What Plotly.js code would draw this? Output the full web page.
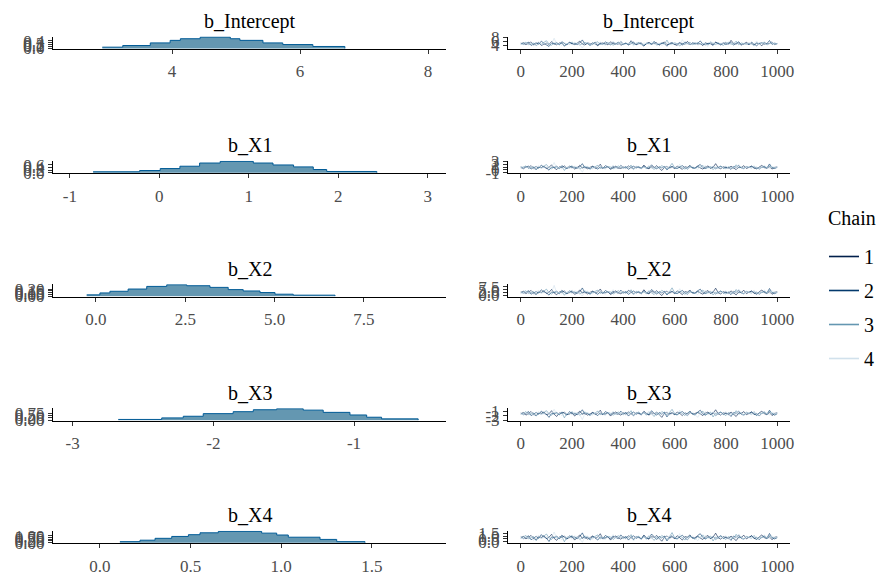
<!DOCTYPE html>
<html><head><meta charset="utf-8">
<script src="https://cdn.plot.ly/plotly-3.0.1.min.js"></script>
<style>html,body{margin:0;padding:0;background:#fff;} #chart{width:879px;height:576px;}</style>
</head><body><div id="chart"></div>
<script>
// ---------------- DATA ----------------
const PARAMS = ['b_Intercept', 'b_X1', 'b_X2', 'b_X3', 'b_X4'];
const CHAINS = ['1', '2', '3', '4'];
const ITER = [0,10,20,30,40,50,60,70,80,90,100,110,120,130,140,150,160,170,180,190,200,210,220,230,240,250,260,270,280,290,300,310,320,330,340,350,360,370,380,390,400,410,420,430,440,450,460,470,480,490,500,510,520,530,540,550,560,570,580,590,600,610,620,630,640,650,660,670,680,690,700,710,720,730,740,750,760,770,780,790,800,810,820,830,840,850,860,870,880,890,900,910,920,930,940,950,960,970,980,990,1000];

// posterior density (step outline as seen in the picture)
const DENS_X_INTERCEPT = [2.91,3.23,3.66,3.97,4.13,4.44,4.91,5.06,5.42,5.73,6.20,6.70];
const DENS_Y_INTERCEPT = [0.067,0.154,0.292,0.426,0.513,0.600,0.513,0.426,0.292,0.205,0.103,0];
const DENS_X_X1 = [-0.74,-0.22,0.01,0.23,0.45,0.68,1.05,1.27,1.50,1.72,1.87,2.43];
const DENS_Y_X1 = [0.073,0.167,0.312,0.487,0.726,0.85,0.726,0.581,0.436,0.240,0.094,0];
const DENS_X_X2 = [-0.26,0.11,0.39,0.90,1.42,1.98,2.54,3.19,3.70,4.12,4.59,5.01,5.52,6.69];
const DENS_Y_X2 = [0.037,0.093,0.141,0.206,0.282,0.33,0.302,0.254,0.189,0.150,0.104,0.056,0.028,0];
const DENS_X_X3 = [-2.676,-2.367,-2.214,-2.072,-1.859,-1.716,-1.550,-1.361,-1.219,-1.029,-0.910,-0.804,-0.544];
const DENS_Y_X3 = [0.072,0.236,0.410,0.687,0.892,1.097,1.2,1.056,0.821,0.544,0.308,0.133,0];
const DENS_X_X4 = [0.110,0.221,0.304,0.396,0.488,0.552,0.653,0.892,0.975,1.039,1.214,1.306,1.462];
const DENS_Y_X4 = [0.155,0.357,0.621,0.885,1.133,1.398,1.6,1.351,1.087,0.777,0.466,0.155,0];

// MCMC draws (thinned, every 10th iteration) per chain
const TRACE_INTERCEPT = [
 [4.7,5.2,4.3,4.9,5.6,4.1,4.8,5.3,3.9,4.6, 5.0,4.4,5.8,4.7,4.2,5.1,4.9,3.7,4.5,5.4, 4.8,4.3,5.0,6.0,4.6,4.1,5.2,4.7,4.4,5.5, 3.8,4.9,5.1,4.6,4.2,5.7,4.8,4.5,5.3,4.0, 4.7,5.0,4.4,6.2,4.9,4.3,5.1,4.6,3.6,4.8, 5.4,4.5,4.9,5.2,4.1,4.7,5.6,4.3,4.8,5.0, 4.4,3.9,5.3,4.7,4.6,5.9,4.2,4.9,5.1,4.5, 4.8,3.8,5.2,4.6,5.0,4.3,5.5,4.7,4.1,4.9, 5.3,4.4,6.4,4.8,4.6,5.1,4.0,4.7,5.4,4.5, 4.9,4.2,5.0,4.8,3.7,5.2,4.6,4.9,5.6,4.3, 4.8],
 [5.1,4.4,4.8,5.5,3.9,4.7,5.2,4.5,6.0,4.9, 4.3,3.4,5.0,4.6,5.3,4.2,5.7,4.8,4.1,5.4, 4.7,4.9,4.3,5.1,6.6,4.5,4.8,4.0,5.2,4.6, 3.9,5.0,4.4,5.6,4.9,4.2,5.3,4.7,4.4,5.8, 4.6,5.0,4.1,4.8,5.5,4.3,4.9,5.2,3.8,4.7, 5.1,4.5,5.9,4.6,4.2,5.0,4.8,3.5,4.9,5.3, 4.4,4.7,5.1,4.0,5.6,4.8,4.3,5.2,4.6,4.9, 6.1,4.5,4.2,5.0,4.7,3.9,5.4,4.8,4.6,5.1, 4.3,4.9,5.3,4.1,4.7,5.7,4.4,4.8,5.0,4.2, 5.5,4.6,3.7,4.9,5.2,4.5,4.8,6.3,4.4,5.0, 4.7],
 [4.4,4.9,5.5,4.2,4.7,5.1,3.7,4.8,4.5,5.3, 6.2,4.6,4.0,5.0,4.8,4.3,5.2,3.5,4.9,4.6, 5.6,4.4,5.0,4.1,4.7,5.4,4.9,3.8,4.6,5.1, 5.7,4.3,4.8,4.5,5.2,4.9,4.0,4.7,5.5,4.8, 4.3,5.0,4.6,5.8,4.2,4.9,5.3,4.4,3.9,5.1, 4.7,4.5,5.4,4.0,4.8,5.1,4.6,6.5,4.3,4.9, 5.2,4.7,3.6,5.0,4.5,4.8,5.5,4.2,4.9,5.3, 4.4,4.6,5.0,4.1,5.7,4.8,4.3,5.2,4.6,3.9, 4.9,5.4,4.5,4.7,6.0,4.2,5.1,4.8,4.4,5.0, 4.6,3.8,5.3,4.7,4.9,5.6,4.1,4.8,5.2,4.5, 4.9],
 [4.8,4.2,5.0,4.6,5.4,3.8,4.9,5.7,4.3,4.7, 5.1,4.5,4.9,7.4,4.4,4.8,3.9,5.2,4.6,5.0, 4.1,5.5,4.7,4.3,2.6,4.9,5.3,4.6,4.2,5.0, 4.8,5.6,4.4,4.0,5.1,4.7,6.0,4.5,4.9,5.2, 4.6,4.3,5.0,4.8,3.6,5.4,4.7,4.2,5.1,4.9, 4.5,5.8,4.4,4.8,5.0,3.9,4.6,5.3,4.7,4.1, 5.2,4.9,4.4,6.7,4.6,5.0,4.3,4.8,5.5,4.0, 4.7,5.1,4.5,3.4,4.9,5.4,4.6,4.2,5.0,4.8, 5.7,4.3,4.7,5.2,4.4,4.9,3.8,5.1,4.6,5.3, 4.5,4.8,6.1,4.2,4.9,5.0,4.4,4.7,5.4,4.6, 4.8]
];
const TRACE_X1 = [
 [0.9,0.4,1.2,0.7,1.5,0.6,0.2,1.0,0.8,1.3, 0.5,0.9,1.8,0.7,0.1,1.1,0.8,1.4,0.6,0.9, 1.2,0.3,0.8,1.6,0.7,1.0,0.4,0.9,1.3,0.6, 0.9,2.0,0.5,0.8,1.1,0.2,0.9,1.3,0.7,0.5, 1.0,0.6,1.4,0.8,0.3,1.2,0.9,0.5,1.7,0.7, 0.4,1.1,0.8,1.5,0.6,-0.2,0.9,1.2,0.7,1.0, 0.5,1.3,0.8,0.2,1.1,0.9,1.6,0.6,0.8,1.2, 0.7,0.3,1.0,1.4,0.6,0.9,2.2,0.8,0.4,1.1, 0.9,0.6,1.3,0.7,0.1,1.0,0.8,1.5,0.5,0.9, 1.2,0.7,0.4,1.0,1.6,0.8,0.6,1.1,0.3,0.9, 1.0],
 [1.1,0.6,0.9,1.4,0.3,0.8,1.2,0.6,1.7,0.9, 0.7,-0.1,1.0,0.8,1.3,0.5,1.5,0.9,0.4,1.4, 0.8,1.0,0.6,1.1,2.2,0.7,0.9,0.4,1.2,0.8, 0.3,1.0,0.6,1.5,0.9,0.5,1.2,0.8,0.6,1.6, 0.8,1.1,0.2,0.9,1.3,0.7,1.0,0.5,1.4,0.8, 0.6,1.8,0.9,0.4,1.1,0.7,1.2,0.0,0.9,1.3, 0.7,0.5,1.0,1.5,0.8,0.3,1.1,0.9,0.6,1.4, 1.9,0.8,0.5,1.0,0.7,1.2,0.4,0.9,1.3,0.6, 1.0,0.8,0.2,1.2,0.9,1.6,0.7,0.5,1.1,0.8, 1.4,0.6,0.9,0.3,1.0,1.2,0.7,2.1,0.8,0.5, 0.9],
 [0.7,1.0,1.4,0.5,0.8,1.1,0.1,0.9,0.7,1.3, 1.9,0.8,0.4,1.0,0.9,0.5,1.2,-0.2,1.0,0.7, 1.5,0.6,1.0,0.4,0.8,1.3,1.0,0.2,0.7,1.1, 1.6,0.5,0.9,0.7,1.2,1.0,0.4,0.8,1.4,0.9, 0.6,1.1,0.8,1.7,0.3,0.9,1.2,0.6,1.0,0.5, 1.3,0.8,0.2,1.0,0.7,1.5,0.9,0.4,1.1,2.3, 0.8,0.6,1.2,0.9,0.3,1.0,1.4,0.7,0.5,1.1, 0.9,1.6,0.6,0.8,1.2,0.1,1.0,0.7,1.3,0.8, 0.4,1.1,0.9,0.6,1.8,0.7,1.0,0.5,1.2,0.9, 0.7,1.4,0.3,1.0,0.8,1.1,0.6,1.5,0.9,0.7, 1.0],
 [0.9,0.5,1.0,0.7,1.3,0.2,1.0,1.5,0.6,0.8, 1.1,0.7,1.0,2.6,0.6,0.9,0.3,1.2,0.7,1.0, 0.4,1.4,0.8,0.5,-0.8,1.0,1.3,0.7,0.4,1.0, 0.9,1.5,0.6,0.3,1.1,0.8,1.7,0.7,1.0,1.2, 0.8,0.5,1.1,0.9,0.0,1.3,0.7,0.4,1.0,0.8, 1.6,0.6,0.9,1.2,0.3,1.0,0.7,1.4,0.5,0.9, 1.1,0.8,2.0,0.6,1.0,0.4,0.9,1.3,0.7,0.2, 1.0,0.8,1.5,0.6,0.9,1.2,0.4,1.1,0.7,0.9, 1.4,0.5,0.8,1.0,0.6,1.9,0.9,0.3,1.1,0.8, 0.7,1.2,0.9,0.5,1.0,1.6,0.8,0.6,1.3,0.9, 0.8]
];
const TRACE_X2 = [
 [2.4,3.6,1.5,2.9,4.3,1.9,0.9,3.2,2.6,4.0, 1.6,2.7,5.2,2.1,0.5,3.0,2.8,3.8,1.7,2.5, 3.4,0.8,2.3,4.8,2.0,3.1,1.2,2.6,3.7,2.2, 2.8,5.6,1.6,2.4,3.0,0.7,2.7,3.9,2.3,1.4, 3.0,1.9,4.4,2.5,1.1,3.3,2.6,1.5,4.9,2.2, 1.3,3.5,2.4,4.1,1.8,-0.2,2.7,3.6,2.0,3.1, 1.6,3.8,2.5,0.6,3.2,2.8,4.6,1.9,2.4,3.5, 2.1,1.0,3.0,4.2,1.7,2.7,6.3,2.3,1.2,3.3, 2.6,1.8,3.9,2.2,0.4,3.0,2.5,4.5,1.5,2.8, 3.6,2.0,1.1,3.1,4.7,2.4,1.7,3.2,0.9,2.7, 3.0],
 [3.1,1.8,2.6,4.1,1.0,2.4,3.3,2.0,4.9,2.8, 2.2,0.2,2.9,2.3,3.6,1.5,4.4,2.7,1.3,4.0, 2.5,2.9,1.8,3.1,6.5,2.1,2.7,1.2,3.3,2.3, 0.9,3.0,1.9,4.2,2.8,1.6,3.5,2.4,1.9,4.6, 2.3,3.2,0.8,2.6,3.8,2.0,3.0,1.4,4.1,2.4, 1.8,5.1,2.7,1.2,3.2,2.1,3.5,0.3,2.6,3.7, 2.0,1.5,3.0,4.3,2.3,1.0,3.2,2.7,1.8,4.0, 5.4,2.4,1.6,2.9,2.0,3.4,1.2,2.6,3.8,1.9, 3.0,2.3,0.7,3.5,2.6,4.6,2.0,1.4,3.2,2.4, 4.0,1.7,2.7,1.0,2.9,3.5,2.1,6.0,2.4,1.5, 2.6],
 [2.0,2.8,4.0,1.6,2.5,3.2,0.6,2.7,2.2,3.7, 5.4,2.4,1.1,3.0,2.7,1.6,3.4,0.1,2.9,2.3, 4.3,1.9,3.0,1.3,2.5,3.8,2.8,0.8,2.4,3.2, 4.6,1.7,2.7,2.2,3.4,2.9,1.2,2.5,4.1,2.7, 1.8,3.3,2.4,4.9,1.0,2.7,3.5,1.9,2.9,1.5, 3.8,2.3,0.7,3.0,2.0,4.4,2.6,1.3,3.2,6.6, 2.4,1.8,3.5,2.7,1.0,2.9,4.0,2.1,1.5,3.2, 2.6,4.7,1.7,2.3,3.6,0.4,2.9,2.0,3.7,2.4, 1.2,3.2,2.6,1.8,5.1,2.1,2.9,1.5,3.5,2.7, 2.0,4.0,0.9,2.9,2.3,3.2,1.7,4.3,2.6,2.1, 2.8],
 [2.6,1.6,3.0,2.3,3.9,0.7,2.8,4.5,1.8,2.5, 3.2,2.1,2.9,8.8,2.0,2.7,1.0,3.4,2.3,3.0, 1.4,4.0,2.5,1.7,-0.6,2.9,3.7,2.3,1.4,3.0, 2.6,4.4,1.9,1.2,3.2,2.4,5.0,2.2,2.9,3.5, 2.4,1.5,3.2,2.7,0.3,3.8,2.2,1.3,3.0,2.5, 4.7,1.9,2.6,3.5,1.0,3.0,2.1,4.1,1.6,2.7, 3.3,2.4,5.8,1.8,2.9,1.2,2.6,3.8,2.1,0.6, 3.0,2.5,4.3,1.8,2.7,3.5,1.3,3.2,2.2,2.6, 4.0,1.5,2.4,3.0,1.9,5.5,2.7,1.0,3.3,2.3, 2.1,3.6,2.6,1.4,2.9,4.6,2.4,1.8,3.8,2.7, 2.4]
];
const TRACE_X3 = [
 [-1.6,-1.3,-1.9,-1.5,-1.1,-1.7,-2.0,-1.4,-1.5,-1.2, -1.8,-1.6,-0.9,-1.7,-2.2,-1.4,-1.5,-1.2,-1.8,-1.6, -1.3,-2.1,-1.6,-1.0,-1.7,-1.4,-1.9,-1.5,-1.3,-1.7, -1.5,-0.8,-1.8,-1.6,-1.4,-2.1,-1.5,-1.2,-1.6,-1.9, -1.4,-1.7,-1.2,-1.6,-2.0,-1.3,-1.5,-1.8,-1.1,-1.6, -1.9,-1.4,-1.6,-1.2,-1.7,-2.4,-1.5,-1.3,-1.7,-1.4, -1.8,-1.2,-1.5,-2.0,-1.4,-1.6,-1.0,-1.7,-1.5,-1.3, -1.6,-2.0,-1.4,-1.2,-1.8,-1.5,-0.7,-1.6,-1.9,-1.4, -1.5,-1.7,-1.2,-1.6,-2.2,-1.4,-1.5,-1.1,-1.8,-1.5, -1.3,-1.6,-1.9,-1.4,-1.0,-1.6,-1.8,-1.3,-2.0,-1.5, -1.4],
 [-1.4,-1.8,-1.5,-1.1,-2.0,-1.6,-1.3,-1.7,-1.0,-1.5, -1.7,-2.4,-1.5,-1.6,-1.3,-1.8,-1.2,-1.5,-1.9,-1.1, -1.6,-1.5,-1.8,-1.4,-0.7,-1.7,-1.5,-1.9,-1.3,-1.6, -2.0,-1.4,-1.8,-1.1,-1.5,-1.8,-1.3,-1.6,-1.7,-1.0, -1.6,-1.3,-2.1,-1.5,-1.2,-1.7,-1.4,-1.8,-1.1,-1.6, -1.8,-0.9,-1.5,-1.9,-1.3,-1.7,-1.2,-2.3,-1.5,-1.4, -1.7,-1.8,-1.4,-1.1,-1.6,-2.0,-1.3,-1.5,-1.8,-1.2, -0.8,-1.6,-1.9,-1.4,-1.7,-1.3,-2.0,-1.5,-1.2,-1.8, -1.4,-1.6,-2.2,-1.3,-1.5,-1.0,-1.7,-1.9,-1.4,-1.6, -1.1,-1.8,-1.5,-2.1,-1.4,-1.2,-1.7,-0.8,-1.6,-1.9, -1.6],
 [-1.7,-1.5,-1.1,-1.8,-1.6,-1.4,-2.1,-1.5,-1.7,-1.3, -0.9,-1.6,-1.9,-1.4,-1.5,-1.8,-1.3,-2.5,-1.5,-1.7, -1.1,-1.8,-1.4,-1.9,-1.6,-1.2,-1.5,-2.0,-1.6,-1.4, -1.0,-1.8,-1.5,-1.7,-1.3,-1.5,-1.9,-1.6,-1.2,-1.5, -1.8,-1.3,-1.6,-0.9,-2.0,-1.5,-1.2,-1.7,-1.4,-1.9, -1.3,-1.6,-2.2,-1.4,-1.7,-1.1,-1.5,-1.8,-1.3,-0.6, -1.6,-1.9,-1.2,-1.5,-2.0,-1.4,-1.1,-1.7,-1.9,-1.3, -1.5,-1.0,-1.8,-1.6,-1.2,-2.3,-1.4,-1.7,-1.2,-1.6, -2.0,-1.3,-1.5,-1.8,-0.9,-1.7,-1.4,-1.9,-1.2,-1.5, -1.7,-1.1,-2.1,-1.4,-1.6,-1.3,-1.8,-1.0,-1.5,-1.7, -1.4],
 [-1.5,-1.8,-1.4,-1.6,-1.2,-2.0,-1.5,-1.1,-1.8,-1.6, -1.4,-1.7,-1.5,-0.6,-1.7,-1.5,-2.0,-1.3,-1.6,-1.4, -1.9,-1.2,-1.6,-1.8,-2.9,-1.5,-1.3,-1.6,-1.9,-1.4, -1.5,-1.1,-1.7,-2.0,-1.4,-1.6,-1.0,-1.7,-1.5,-1.3, -1.6,-1.9,-1.4,-1.5,-2.2,-1.2,-1.7,-1.9,-1.3,-1.5, -1.0,-1.7,-1.5,-1.2,-2.0,-1.4,-1.8,-1.1,-1.9,-1.5, -1.3,-1.6,-0.8,-1.8,-1.4,-2.1,-1.5,-1.2,-1.7,-2.4, -1.4,-1.7,-1.1,-1.9,-1.5,-1.2,-2.0,-1.4,-1.8,-1.6, -1.1,-2.0,-1.6,-1.4,-1.8,-0.9,-1.5,-2.1,-1.3,-1.6, -1.8,-1.3,-1.5,-2.0,-1.4,-1.1,-1.6,-1.9,-1.2,-1.5, -1.6]
];
const TRACE_X4 = [
 [0.70,0.95,0.50,0.80,1.10,0.60,0.35,0.90,0.75,1.05, 0.55,0.80,1.30,0.60,0.25,0.85,0.80,1.00,0.55,0.75, 0.95,0.30,0.70,1.20,0.60,0.90,0.45,0.75,1.00,0.65, 0.80,1.40,0.50,0.70,0.90,0.30,0.80,1.00,0.70,0.45, 0.85,0.60,1.05,0.75,0.40,0.95,0.70,0.50,1.15,0.65, 0.45,0.90,0.75,1.10,0.55,0.10,0.80,1.00,0.65,0.85, 0.55,1.05,0.70,0.30,0.90,0.80,1.20,0.60,0.75,0.95, 0.65,0.40,0.85,1.10,0.55,0.80,1.50,0.70,0.45,0.90, 0.75,0.55,1.00,0.65,0.20,0.85,0.75,1.15,0.50,0.80, 1.00,0.65,0.40,0.85,1.20,0.70,0.55,0.90,0.35,0.80, 0.85],
 [0.90,0.55,0.75,1.05,0.35,0.70,0.95,0.60,1.25,0.80, 0.65,0.05,0.85,0.70,1.00,0.50,1.15,0.80,0.45,1.05, 0.75,0.85,0.55,0.90,1.55,0.60,0.80,0.40,0.95,0.70, 0.30,0.85,0.55,1.10,0.80,0.50,1.00,0.70,0.55,1.20, 0.70,0.90,0.30,0.80,1.05,0.60,0.85,0.45,1.10,0.70, 0.55,1.35,0.80,0.40,0.95,0.65,1.00,0.15,0.75,1.05, 0.60,0.50,0.85,1.15,0.70,0.35,0.95,0.80,0.55,1.10, 1.40,0.75,0.50,0.85,0.60,1.00,0.40,0.80,1.05,0.55, 0.85,0.70,0.25,1.00,0.75,1.20,0.60,0.45,0.90,0.70, 1.10,0.55,0.80,0.35,0.85,1.00,0.65,1.45,0.70,0.50, 0.70],
 [0.60,0.85,1.10,0.50,0.75,0.90,0.20,0.80,0.65,1.00, 1.35,0.70,0.40,0.85,0.80,0.50,0.95,0.00,0.85,0.70, 1.10,0.55,0.85,0.40,0.75,1.00,0.80,0.30,0.70,0.90, 1.20,0.50,0.80,0.65,0.95,0.85,0.40,0.75,1.05,0.80, 0.55,0.90,0.70,1.25,0.35,0.80,0.95,0.55,0.85,0.45, 1.00,0.70,0.25,0.85,0.60,1.10,0.75,0.40,0.90,1.60, 0.70,0.55,0.95,0.80,0.30,0.85,1.05,0.65,0.45,0.90, 0.75,1.20,0.50,0.70,1.00,0.15,0.85,0.60,1.05,0.70, 0.40,0.90,0.75,0.55,1.30,0.65,0.85,0.45,0.95,0.75, 0.60,1.10,0.35,0.85,0.70,0.90,0.50,1.15,0.75,0.65, 0.80],
 [0.75,0.50,0.85,0.70,1.00,0.25,0.80,1.15,0.55,0.75, 0.90,0.60,0.85,1.70,0.60,0.80,0.35,0.95,0.70,0.85, 0.45,1.05,0.75,0.50,-0.10,0.85,1.00,0.70,0.45,0.85, 0.75,1.10,0.55,0.40,0.90,0.70,1.25,0.65,0.85,0.95, 0.70,0.45,0.90,0.80,0.15,1.00,0.65,0.40,0.85,0.75, 1.15,0.55,0.80,0.95,0.35,0.85,0.60,1.05,0.50,0.80, 0.90,0.70,1.40,0.55,0.85,0.40,0.75,1.00,0.60,0.20, 0.85,0.70,1.10,0.55,0.80,0.95,0.40,0.90,0.65,0.75, 1.05,0.50,0.70,0.85,0.60,1.35,0.75,0.35,0.90,0.70, 0.60,0.95,0.80,0.50,0.85,1.20,0.70,0.55,1.00,0.75, 0.70]
];

// tick labels
const VALUE_TICKS = [[2,4,6,8],[-1,0,1,2,3],[0,2.5,5,7.5,10],[-3,-2,-1],[0,0.5,1,1.5]];
const VALUE_TICKTEXT = [['2','4','6','8'],['-1','0','1','2','3'],['0.0','2.5','5.0','7.5','10.0'],['-3','-2','-1'],['0.0','0.5','1.0','1.5']];
const DENS_TICKS = [[0,0.1,0.2,0.3,0.4],[0,0.2,0.4,0.6],[0,0.05,0.1,0.15,0.2],[0,0.25,0.5,0.75],[0,0.25,0.5,0.75,1]];
const DENS_TICKTEXT = [['0.0','0.1','0.2','0.3','0.4'],['0.0','0.2','0.4','0.6'],['0.00','0.05','0.10','0.15','0.20'],['0.00','0.25','0.50','0.75'],['0.00','0.25','0.50','0.75','1.00']];
const ITER_TICKS = [0,200,400,600,800,1000];
const LEGEND_TITLE = 'Chain';

// ---------------- STYLE / LAYOUT ----------------
const W = 879, H = 576;
const CHAIN_COLORS = ['#011f4b','#03396c','#6497b1','#d1e1ec'];
const FILL = '#6497b1', OUTLINE = '#005b96';
const FONT = 'Liberation Serif';
const AXIS_PX = [49, 173.3, 296.7, 420.7, 543.3];
const PANEL_H = 12.5;
const LEFT_DOM = [53/W, 446/W], RIGHT_DOM = [508/W, 790/W];
const VALUE_RANGES = [[2.14, 8.28], [-1.188, 3.203], [-1.203, 9.796], [-3.14, -0.346], [-0.259, 1.909]];

const DENS = [
  [DENS_X_INTERCEPT, DENS_Y_INTERCEPT],
  [DENS_X_X1, DENS_Y_X1],
  [DENS_X_X2, DENS_Y_X2],
  [DENS_X_X3, DENS_Y_X3],
  [DENS_X_X4, DENS_Y_X4]
];
const TRACES = [TRACE_INTERCEPT, TRACE_X1, TRACE_X2, TRACE_X3, TRACE_X4];

function axisBase() {
  return {
    showline: true, linecolor: '#000', linewidth: 1,
    ticks: 'outside', ticklen: 4, tickwidth: 1, tickcolor: '#333',
    showgrid: false, zeroline: false, automargin: false, fixedrange: true,
    tickfont: {family: FONT, size: 17, color: '#4d4d4d'}
  };
}

const data = [];
const layout = {
  width: W, height: H,
  margin: {l: 0, r: 0, t: 0, b: 0},
  paper_bgcolor: '#fff', plot_bgcolor: '#fff',
  font: {family: FONT},
  showlegend: true,
  legend: {
    font: {family: FONT, size: 20, color: '#000'},
    x: 824/W, xanchor: 'left', y: 1 - 237/H, yanchor: 'top',
    tracegroupgap: 5, itemwidth: 30, bgcolor: 'rgba(0,0,0,0)'
  },
  annotations: [{
    text: LEGEND_TITLE, showarrow: false, xref: 'paper', yref: 'paper',
    x: 826/W, xanchor: 'left', y: 1 - 218/H, yanchor: 'middle',
    font: {family: FONT, size: 20, color: '#000'}
  }]
};

PARAMS.forEach((p, r) => {
  const nL = 2*r + 1, nR = 2*r + 2;
  const bottom = 1 - AXIS_PX[r]/H, top = 1 - (AXIS_PX[r]-PANEL_H)/H;
  const dx = DENS[r][0], dy = DENS[r][1];
  const peak = Math.max(...dy);

  // density panel
  data.push({
    type: 'scatter', mode: 'lines', x: dx, y: dy,
    xaxis: 'x' + nL, yaxis: 'y' + nL,
    line: {shape: 'hv', color: OUTLINE, width: 1},
    fill: 'tozeroy', fillcolor: FILL, showlegend: false, hoverinfo: 'skip'
  });
  layout['xaxis' + nL] = Object.assign(axisBase(), {
    domain: LEFT_DOM, anchor: 'y' + nL, range: VALUE_RANGES[r],
    tickvals: VALUE_TICKS[r], ticktext: VALUE_TICKTEXT[r], ticklabelstandoff: 3
  });
  layout['yaxis' + nL] = Object.assign(axisBase(), {
    domain: [bottom, top], anchor: 'x' + nL, range: [-0.05*peak, 1.05*peak],
    tickvals: DENS_TICKS[r], ticktext: DENS_TICKTEXT[r]
  });

  // trace panel
  TRACES[r].forEach((chain, c) => {
    data.push({
      type: 'scatter', mode: 'lines', x: ITER, y: chain,
      xaxis: 'x' + nR, yaxis: 'y' + nR,
      line: {color: CHAIN_COLORS[c], width: 0.6},
      showlegend: false, hoverinfo: 'skip'
    });
  });
  layout['xaxis' + nR] = Object.assign(axisBase(), {
    domain: RIGHT_DOM, anchor: 'y' + nR, range: [-50, 1050],
    tickvals: ITER_TICKS, ticktext: ITER_TICKS.map(String), ticklabelstandoff: 3
  });
  layout['yaxis' + nR] = Object.assign(axisBase(), {
    domain: [bottom, top], anchor: 'x' + nR, range: VALUE_RANGES[r],
    tickvals: VALUE_TICKS[r], ticktext: VALUE_TICKTEXT[r]
  });

  // facet titles
  [nL, nR].forEach(n => {
    layout.annotations.push({
      text: p, showarrow: false, xref: 'x' + n + ' domain', x: 0.5, xanchor: 'center',
      yref: 'paper', y: 1 - (AXIS_PX[r] - 28)/H, yanchor: 'middle',
      font: {family: FONT, size: 20, color: '#000'}
    });
  });
});

// legend keys for the chains (same colours as the trace lines)
CHAINS.forEach((name, c) => {
  data.push({
    type: 'scatter', mode: 'lines', x: [null], y: [null],
    xaxis: 'x2', yaxis: 'y2', name: name, legendgroup: 'c' + c,
    line: {color: CHAIN_COLORS[c], width: 1.6}, showlegend: true, hoverinfo: 'skip'
  });
});

Plotly.newPlot('chart', data, layout, {staticPlot: true, displayModeBar: false});
</script></body></html>
